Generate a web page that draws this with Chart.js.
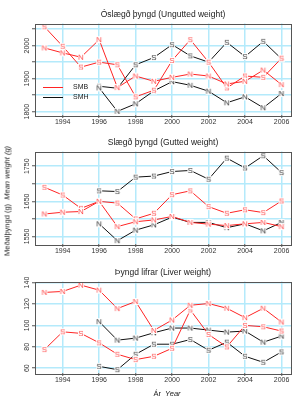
<!DOCTYPE html>
<html>
<head>
<meta charset="utf-8">
<script src="https://cdn.jsdelivr.net/npm/chart.js@4"></script>
<style>
body { margin: 0; background: #fff; width: 295px; height: 396px; position: relative; overflow: hidden; font-family: "Liberation Sans", Arial, sans-serif; color: #222; }
canvas { position: absolute; left: 0; }
#ytitle { position: absolute; left: 6.5px; top: 201px; transform: translate(-50%, -50%) rotate(-90deg); white-space: nowrap; font-size: 7.5px; }
#xtitle { position: absolute; left: 167px; top: 393px; transform: translate(-50%, -50%); white-space: nowrap; font-size: 7.5px; }
</style>
</head>
<body>
<canvas id="c1" width="295" height="129" style="top:0px"></canvas>
<canvas id="c2" width="295" height="130" style="top:128px"></canvas>
<canvas id="c3" width="295" height="129" style="top:258px"></canvas>
<div id="ytitle">Meðalþyngd (g)&nbsp;&nbsp;<i>Mean weight (g)</i></div>
<div id="xtitle">Ár&nbsp;&nbsp;<i>Year</i></div>
<script>
// years
var yearsSMB = [1993, 1994, 1995, 1996, 1997, 1998, 1999, 2000, 2001, 2002, 2003, 2004, 2005, 2006];
var yearsSMH = [1996, 1997, 1998, 1999, 2000, 2001, 2002, 2003, 2004, 2005, 2006];
var xTicks = [1994, 1996, 1998, 2000, 2002, 2004, 2006];

// Óslægð þyngd (ungutted)
var smbN_ung = [1993, 1978, 1965, 2018, 1873, 1908, 1892, 1904, 1914, 1908, 1884, 1892, 1926, 1882];
var smbS_ung = [2057, 1998, 1935, 1950, 1942, 1845, 1865, 1955, 2018, 1950, 1872, 1908, 1904, 1962];
var smhN_ung = [1872, 1801, 1824, 1863, 1891, 1880, 1862, 1827, 1845, 1812, 1855];
var smhS_ung = [1877, 1871, 1942, 1964, 2003, 1969, 1950, 2010, 1967, 2013, 1960];

// Slægð þyngd (gutted)
var smbN_gut = [1614, 1619, 1621, 1650, 1578, 1592, 1597, 1607, 1590, 1585, 1581, 1586, 1590, 1578];
var smbS_gut = [1690, 1668, 1630, 1650, 1645, 1600, 1616, 1669, 1680, 1635, 1616, 1626, 1618, 1651];
var smhN_gut = [1586, 1538, 1568, 1583, 1605, 1590, 1590, 1575, 1586, 1566, 1590];
var smhS_gut = [1680, 1678, 1719, 1722, 1735, 1738, 1713, 1773, 1745, 1780, 1732];

// Þyngd lifrar (liver)
var smbN_liv = [130.8, 131.7, 137.6, 132.9, 115.7, 122.3, 95.3, 105, 118.8, 120.4, 116, 107.2, 116, 103.1];
var smbS_liv = [77.4, 94, 92.5, 83.7, 73, 68, 71.1, 78.6, 114.4, 91.5, 79.9, 100, 98.7, 94.7];
var smhN_liv = [103.5, 86.2, 88.1, 93.1, 97.5, 97.5, 95.6, 93.7, 94.7, 84.3, 90];
var smhS_liv = [61.7, 58.6, 73, 82.4, 82.4, 86.8, 76.8, 84.3, 71.1, 65.5, 75.2];

// y ticks
var yGrid1 = [1800, 1850, 1900, 1950, 2000, 2050];
var yLab1 = [1800, 1900, 2000];
var yGrid2 = [1550, 1600, 1650, 1700, 1750];
var yLab2 = [1550, 1650, 1750];
var yGrid3 = [60, 80, 100, 120, 140];
var yLab3 = [60, 80, 100, 120, 140];

var FONT = '"Liberation Sans", Arial, sans-serif';
var GRID = '#b4eafb';
var RED = '#ff2424';
var BLACK = '#111111';

// letter used as point mark, with a small white gap like R's type="b"
function letter(ch, color) {
    var c = document.createElement('canvas');
    c.width = 8; c.height = 9;
    var g = c.getContext('2d');
    g.fillStyle = '#fff';
    g.fillRect(1, 1, 6, 7);
    g.font = '8px ' + FONT;
    g.fillStyle = color;
    g.textAlign = 'center';
    g.textBaseline = 'middle';
    g.fillText(ch, 4, 5);
    return c;
}

function pts(xs, ys) {
    return xs.map(function (x, i) { return { x: x, y: ys[i] }; });
}

function ds(xs, ys, col, mark) {
    return {
        data: pts(xs, ys),
        borderColor: col,
        borderWidth: 1,
        pointStyle: mark,
        pointRadius: 3,
        pointHoverRadius: 3,
        tension: 0
    };
}

var boxPlugin = {
    id: 'box',
    afterDraw: function (chart) {
        var a = chart.chartArea, ctx = chart.ctx;
        ctx.save();
        ctx.strokeStyle = '#555';
        ctx.lineWidth = 1;
        ctx.strokeRect(Math.round(a.left) + 0.5, Math.round(a.top) + 0.5, Math.round(a.right - a.left), Math.round(a.bottom - a.top));
        // rotated y labels
        var labs = chart.options.plugins.ylab.values;
        var sc = chart.scales.y;
        ctx.font = '7px ' + FONT;
        ctx.fillStyle = '#333';
        ctx.textAlign = 'center';
        ctx.textBaseline = 'middle';
        labs.forEach(function (v) {
            ctx.save();
            ctx.translate(27, sc.getPixelForValue(v));
            ctx.rotate(-Math.PI / 2);
            ctx.fillText(String(v), 0, 0);
            ctx.restore();
        });
        ctx.restore();
    }
};

var legendPlugin = {
    id: 'legbox',
    afterDraw: function (chart) {
        var ctx = chart.ctx;
        ctx.save();
        ctx.lineWidth = 1;
        ctx.font = '7px ' + FONT;
        ctx.fillStyle = '#222';
        ctx.textBaseline = 'middle';
        [['SMB', RED, 87.5], ['SMH', BLACK, 97.5]].forEach(function (it) {
            ctx.strokeStyle = it[1];
            ctx.beginPath();
            ctx.moveTo(43, it[2]);
            ctx.lineTo(63, it[2]);
            ctx.stroke();
            ctx.fillText(it[0], 73, it[2]);
        });
        ctx.restore();
    }
};

function makeChart(id, title, sets, ymin, ymax, grid, labs, extra) {
    var ctx = document.getElementById(id).getContext('2d');
    return new Chart(ctx, {
        type: 'line',
        data: { datasets: sets },
        options: {
            responsive: false,
            animation: false,
            events: [],
            layout: { padding: { left: 0, right: 2, top: 0, bottom: 0 } },
            plugins: {
                legend: { display: false },
                tooltip: { enabled: false },
                title: {
                    display: true,
                    text: title,
                    fullSize: false,
                    color: '#222',
                    font: { family: FONT, size: 8.5, weight: 'normal', lineHeight: 1 },
                    padding: { top: 10.5, bottom: 4.5 }
                },
                ylab: { values: labs }
            },
            scales: {
                x: {
                    type: 'linear',
                    min: 1992.48,
                    max: 2006.52,
                    afterBuildTicks: function (s) { s.ticks = xTicks.map(function (v) { return { value: v }; }); },
                    afterFit: function (s) { s.height = 14; },
                    ticks: {
                        font: { family: FONT, size: 7 },
                        color: '#333',
                        padding: 0,
                        maxRotation: 0,
                        autoSkip: false,
                        callback: function (v) { return String(v); }
                    },
                    grid: { color: GRID, lineWidth: 1.5, drawTicks: true, tickLength: 3, tickColor: '#555', tickWidth: 1 },
                    border: { display: false }
                },
                y: {
                    min: ymin,
                    max: ymax,
                    afterBuildTicks: function (s) { s.ticks = grid.map(function (v) { return { value: v }; }); },
                    afterFit: function (s) { s.width = 35; },
                    ticks: { display: false },
                    grid: { color: GRID, lineWidth: 1.5, drawTicks: true, tickLength: 3, tickColor: '#555', tickWidth: 1 },
                    border: { display: false }
                }
            }
        },
        plugins: [boxPlugin].concat(extra || [])
    });
}

var rN = letter('N', '#ff4a4a'), rS = letter('S', '#ff4a4a');
var kN = letter('N', '#333'), kS = letter('S', '#333');

makeChart('c1', 'Óslægð þyngd (Ungutted weight)', [
    ds(yearsSMB, smbN_ung, RED, rN),
    ds(yearsSMB, smbS_ung, RED, rS),
    ds(yearsSMH, smhN_ung, BLACK, kN),
    ds(yearsSMH, smhS_ung, BLACK, kS)
], 1790, 2067, yGrid1, yLab1, [legendPlugin]);

makeChart('c2', 'Slægð þyngd (Gutted weight)', [
    ds(yearsSMB, smbN_gut, RED, rN),
    ds(yearsSMB, smbS_gut, RED, rS),
    ds(yearsSMH, smhN_gut, BLACK, kN),
    ds(yearsSMH, smhS_gut, BLACK, kS)
], 1528.5, 1792, yGrid2, yLab2);

makeChart('c3', 'Þyngd lifrar (Liver weight)', [
    ds(yearsSMB, smbN_liv, RED, rN),
    ds(yearsSMB, smbS_liv, RED, rS),
    ds(yearsSMH, smhN_liv, BLACK, kN),
    ds(yearsSMH, smhS_liv, BLACK, kS)
], 55.5, 141, yGrid3, yLab3);
</script>
</body>
</html>
